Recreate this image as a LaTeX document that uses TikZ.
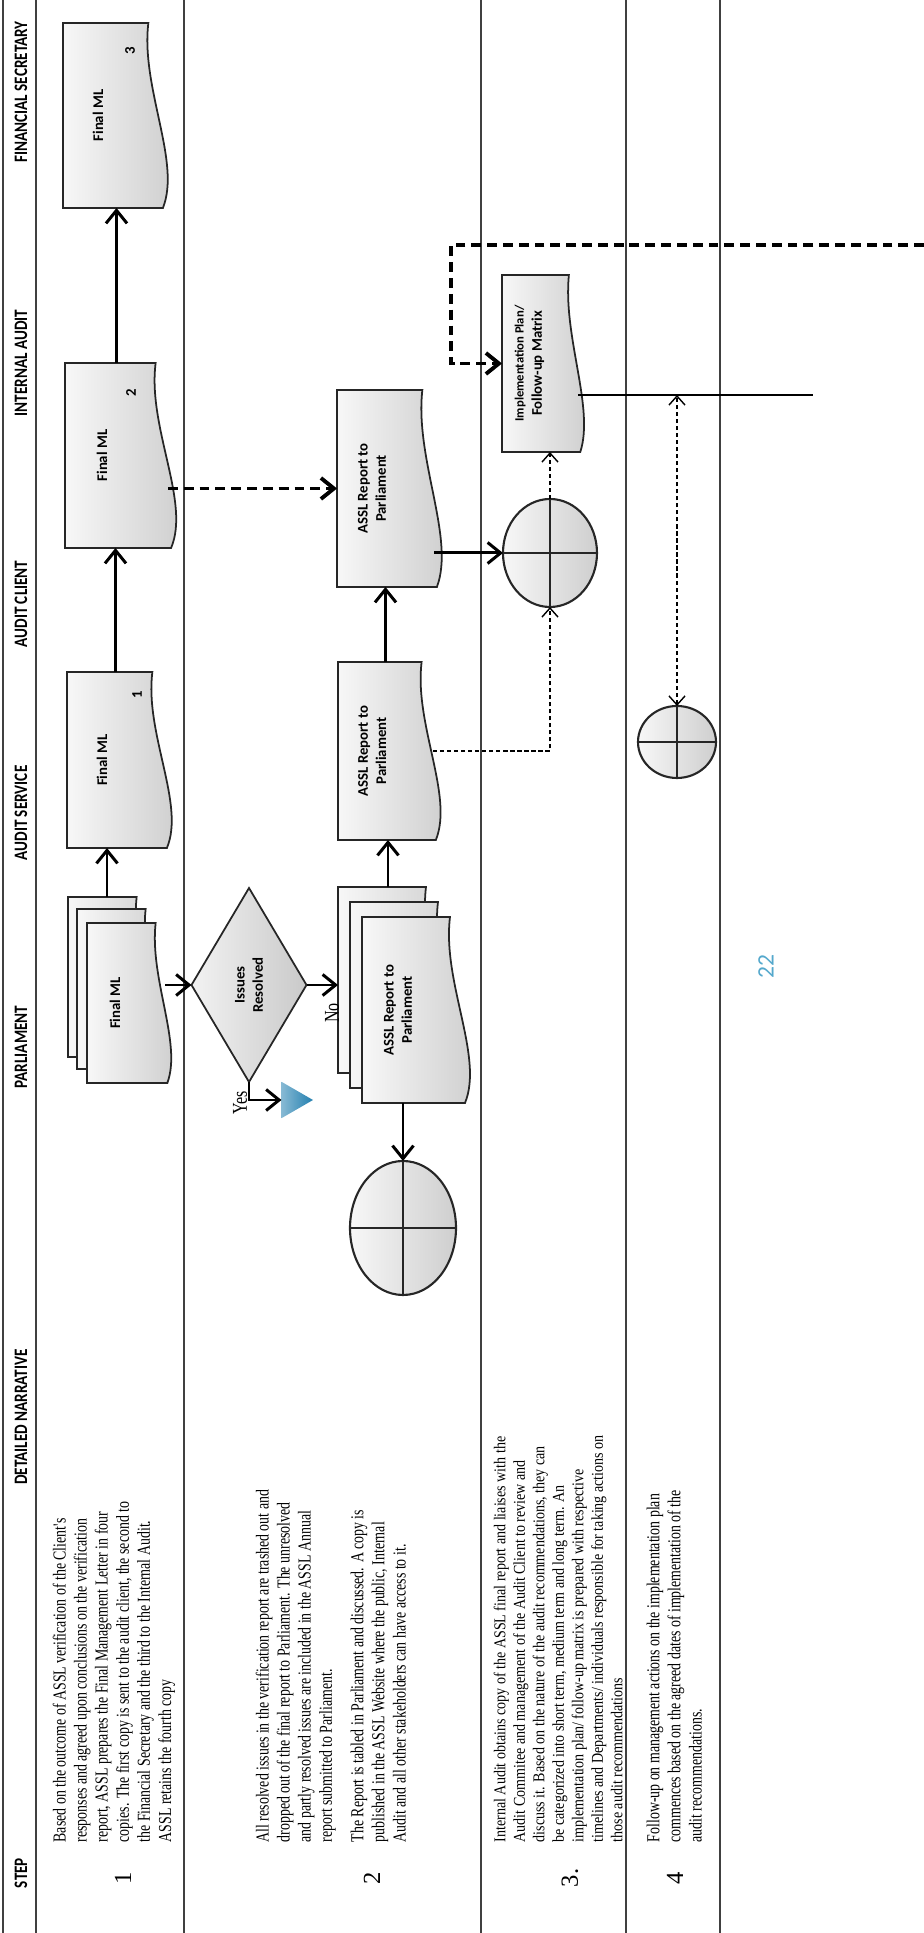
\documentclass[tikz,border=0pt]{standalone}
\usepackage{fontspec}
\setmainfont{Liberation Serif}
\newfontfamily\shapefont{Carlito}
\newfontfamily\headfont[FakeStretch=0.8]{Carlito}
\newfontfamily\narrfont[FakeStretch=0.76]{Liberation Serif}
\newfontfamily\narrsmall[FakeStretch=0.85]{Liberation Serif}
\usetikzlibrary{shapes.geometric, arrows.meta}

\definecolor{triblue}{RGB}{36,128,176}
\definecolor{pageblue}{RGB}{84,168,204}

\tikzstyle{arrow} = [line width=0.85pt, -{Straight Barb[length=1.3mm, width=2.1mm]}]
\tikzstyle{bigdash} = [line width=1.1pt, dash pattern=on 2.8pt off 1.7pt, -{Straight Barb[length=1.3mm, width=2.1mm]}]
\tikzstyle{smalldash} = [line width=0.4pt, dash pattern=on 1.2pt off 0.8pt, -{Straight Barb[length=0.9mm, width=1.6mm]}]
\tikzstyle{rule} = [line width=0.4pt, black!75]
\tikzstyle{docfill} = [draw=black!85, line width=0.5pt, left color=gray!6, right color=gray!40]
\tikzstyle{docbox} = [rectangle, inner sep=0pt, outer sep=0pt]
\tikzstyle{doctext} = [align=center, inner sep=0pt, font=\shapefont\bfseries\fontsize{4.2}{5.2}\selectfont]
\tikzstyle{docnum} = [inner sep=0pt, font=\shapefont\bfseries\fontsize{4.2}{5}\selectfont]
\tikzstyle{decision} = [diamond, aspect=1.7, draw=black!85, line width=0.5pt, inner sep=0pt, outer sep=0pt,
  left color=gray!10, right color=gray!42, align=center, font=\shapefont\bfseries\fontsize{4.2}{5.2}\selectfont]
\tikzstyle{offpage} = [regular polygon, regular polygon sides=3, shape border rotate=180,
  minimum size=0.42cm, inner sep=0pt, outer sep=0pt, left color=triblue!55, right color=triblue]
\tikzstyle{junction} = [ellipse, draw=black!85, line width=0.6pt, inner sep=0pt, outer sep=0pt,
  left color=gray!6, right color=gray!38,
  path picture={\draw[line width=0.6pt] (path picture bounding box.north) -- (path picture bounding box.south)
    (path picture bounding box.west) -- (path picture bounding box.east);}]
\tikzstyle{lane} = [inner sep=0pt, font=\headfont\bfseries\fontsize{5.4}{6}\selectfont]
\tikzstyle{narr} = [anchor=north west, align=left, inner sep=0pt, font=\narrfont\fontsize{5.2}{6}\selectfont]
\tikzstyle{stepno} = [inner sep=0pt, font=\fontsize{7}{8}\selectfont]
\tikzstyle{yesno} = [inner sep=0pt, font=\narrfont\fontsize{6}{7}\selectfont]

% document symbol: name, x, y of top left corner, width, height, text
\newcommand{\docshape}[6]{%
  \path[docfill] (#2,#3) -- (#2+#4,#3) -- (#2+#4,#3-0.88*#5)
    .. controls (#2+0.65*#4,#3-0.80*#5) and (#2+0.25*#4,#3-1.22*#5) .. (#2,#3-1.03*#5) -- cycle;
  \node[docbox, minimum width=#4cm, minimum height=#5cm] (#1) at (#2+0.5*#4,#3-0.5*#5) {};
  \node[doctext] (#1-t) at (#2+0.5*#4,#3-0.36*#5) {#6};
}

\begin{document}
\begin{tikzpicture}[rotate=90, transform shape]
  \useasboundingbox (0,-9.24) rectangle (19.33,0);

  % table rules
  \draw[rule] (0,-0.03) -- (19.33,-0.03);
  \draw[rule] (0,-0.36) -- (19.33,-0.36);
  \draw[rule] (0,-1.84) -- (19.33,-1.84);
  \draw[rule] (0,-4.81) -- (19.33,-4.81);
  \draw[rule] (0,-6.26) -- (19.33,-6.26);
  \draw[rule] (0,-7.20) -- (19.33,-7.20);

  % column heads
  \node[lane] (hstep) at (0.60,-0.21) {STEP};
  \node[lane] (hnarr) at (5.16,-0.21) {DETAILED NARRATIVE};
  \node[lane] (hparl) at (8.86,-0.21) {PARLIAMENT};
  \node[lane] (hserv) at (11.20,-0.21) {AUDIT SERVICE};
  \node[lane] (hclient) at (13.29,-0.21) {AUDIT CLIENT};
  \node[lane] (hinternal) at (15.70,-0.21) {INTERNAL AUDIT};
  \node[lane] (hfinance) at (18.41,-0.21) {FINANCIAL SECRETARY};

  % narrative
  \node[stepno] (s1) at (0.55,-1.23) {1};
  \node[narr] (nar1) at (0.9,-0.52) {Based on the outcome of ASSL verification of the Client's\\
    responses and agreed upon conclusions on the verification\\
    report, ASSL prepares the Final Management Letter in four\\
    copies. The first copy is sent to the audit client, the second to\\
    the Financial Secretary and the third to the Internal Audit.\\
    ASSL retains the fourth copy};
  \node[stepno] (s2) at (0.55,-3.72) {2};
  \node[narr] (nar2a) at (0.9,-2.55) {All resolved issues in the verification report are trashed out and\\
    dropped out of the final report to Parliament. The unresolved\\
    and partly resolved issues are included in the ASSL Annual\\
    report submitted to Parliament.};
  \node[narr] (nar2b) at (0.9,-3.50) {The Report is tabled in Parliament and discussed. A copy is\\
    published in the ASSL Website where the public, Internal\\
    Audit and all other stakeholders can have access to it.};
  \node[stepno] (s3) at (0.55,-5.70) {3.};
  \node[narr, font=\narrsmall\fontsize{4.7}{5.55}\selectfont] (nar3) at (0.9,-4.93) {Internal Audit obtains copy of the ASSL final report and liaises with the\\
    Audit Commitee and management of the Audit Client to review and\\
    discuss it. Based on the nature of the audit recommendations, they can\\
    be categorized into short term, medium term and long term. An\\
    implementation plan/ follow-up matrix is prepared with respective\\
    timelines and Departments/ individuals responsible for taking actions on\\
    those audit recommendations};
  \node[stepno] (s4) at (0.55,-6.75) {4};
  \node[narr] (nar4) at (0.9,-6.46) {Follow-up on management actions on the implementation plan\\
    commences based on the agreed dates of implementation of the\\
    audit recommendations.};

  % step 1
  \docshape{fml3}{17.25}{-0.63}{1.85}{0.97}{Final ML}
  \docshape{fml2}{13.85}{-0.65}{1.85}{1.03}{Final ML}
  \docshape{fml1}{10.85}{-0.67}{1.76}{0.97}{Final ML}
  \docshape{asfmlc}{8.76}{-0.68}{1.60}{0.78}{}
  \docshape{asfmlb}{8.64}{-0.77}{1.60}{0.78}{}
  \docshape{asfml}{8.50}{-0.87}{1.60}{0.78}{Final ML}
  \node[docnum] (n3) at (18.82,-1.30) {3};
  \node[docnum] (n2) at (15.40,-1.31) {2};
  \node[docnum] (n1) at (12.38,-1.37) {1};

  % step 2
  \node[decision, minimum width=1.94cm, minimum height=1.15cm] (diam) at (9.48,-2.49) {Issues\\Resolved};
  \node[offpage] (tri) at (8.33,-2.92) {};
  \docshape{asrepc}{8.60}{-3.38}{1.86}{1.0}{}
  \docshape{asrepb}{8.45}{-3.50}{1.86}{1.0}{}
  \docshape{asrep}{8.30}{-3.62}{1.86}{1.0}{ASSL Report to\\Parliament}
  \docshape{acrep}{10.93}{-3.38}{1.78}{0.95}{ASSL Report to\\Parliament}
  \docshape{iarep}{13.46}{-3.37}{1.97}{0.97}{ASSL Report to\\Parliament}
  \node[junction, minimum width=1.34cm, minimum height=1.06cm] (parl) at (7.05,-4.03) {};
  \node[yesno] (yes) at (8.30,-2.40) {Yes};
  \node[yesno] (no) at (9.20,-3.32) {No};

  % steps 3 and 4
  \node[junction, minimum width=1.08cm, minimum height=0.94cm] (iaell) at (13.80,-5.50) {};
  \docshape{impl}{14.81}{-5.02}{1.77}{0.76}{\fontsize{3.6}{4.4}\selectfont Implementation Plan/\\Follow-up Matrix}
  \node[junction, minimum width=0.72cm, minimum height=0.78cm] (acell) at (11.91,-6.77) {};
  \coordinate (loopin) at (16.88,-9.24);
  \coordinate (loopbend) at (16.88,-4.51);
  \coordinate (implend) at (15.38,-8.13);

  \node[inner sep=0pt, text=pageblue, font=\shapefont\fontsize{6.7}{8}\selectfont] (pageno) at (9.66,-7.66) {22};

  % connectors
  \draw[arrow] (asfmlc.east) -- (asfmlc.east -| fml1.west);
  \draw[arrow] (fml1.east) -- (fml1.east -| fml2.west);
  \draw[arrow] (fml2.east) -- (fml2.east -| fml3.west);
  \draw[arrow] (asfml.south -| diam.north) -- (diam.north);
  \draw[arrow] (diam.south) -- (diam.south |- asrepc.north);
  \draw[arrow] (diam.west) -| (tri.north);
  \draw[arrow] (asrepc.east) -- (asrepc.east -| acrep.west);
  \draw[arrow] (acrep.east) -- (acrep.east -| iarep.west);
  \draw[arrow] (parl.east -| asrep.west) -- (parl.east);
  \draw[bigdash] (fml2.south -| iarep.north) -- (iarep.north);
  \draw[arrow] (iarep.south -| iaell.north) -- (iaell.north);
  \draw[smalldash] (acrep.south) |- (iaell.west);
  \draw[smalldash] (iaell.east) -- (iaell.east -| impl.west);
  \draw[bigdash] (loopin) -- (loopbend) -| (impl.north);
  \draw[line width=0.6pt] (impl.south -| implend) -- (implend);
  \draw[smalldash, {Straight Barb[length=0.9mm, width=1.6mm]}-{Straight Barb[length=0.9mm, width=1.6mm]}] (acell.east) -- (acell.east -| implend);
\end{tikzpicture}
\end{document}
